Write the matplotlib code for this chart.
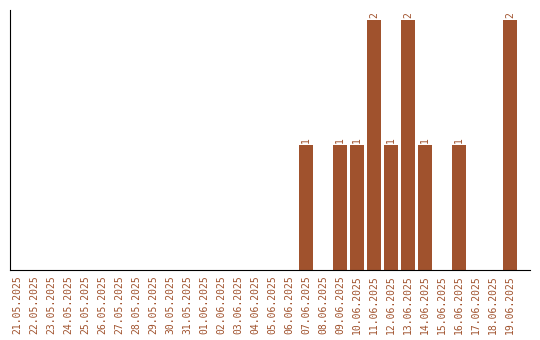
import matplotlib
matplotlib.use("Agg")
import matplotlib.pyplot as plt

dates = ["21.05.2025", "22.05.2025", "23.05.2025", "24.05.2025", "25.05.2025",
         "26.05.2025", "27.05.2025", "28.05.2025", "29.05.2025", "30.05.2025",
         "31.05.2025", "01.06.2025", "02.06.2025", "03.06.2025", "04.06.2025",
         "05.06.2025", "06.06.2025", "07.06.2025", "08.06.2025", "09.06.2025",
         "10.06.2025", "11.06.2025", "12.06.2025", "13.06.2025", "14.06.2025",
         "15.06.2025", "16.06.2025", "17.06.2025", "18.06.2025", "19.06.2025"]
counts = [0, 0, 0, 0, 0, 0, 0, 0, 0, 0,
          0, 0, 0, 0, 0, 0, 0, 1, 0, 1,
          1, 2, 1, 2, 1, 0, 1, 0, 0, 2]

color = "#A0522D"
fig = plt.figure(figsize=(5.4, 3.4), dpi=100)
ax = fig.add_axes([10/540, 70/340, 520/540, 260/340])
x = list(range(len(dates)))
ax.bar(x, counts, width=0.82, color=color)
ax.set_xlim(-0.41, len(dates) + 0.18)
ax.set_ylim(0, 2.08)
for xi, c in zip(x, counts):
    if c > 0:
        ax.text(xi, c + 0.02, str(c), rotation=90, ha="center", va="bottom",
                fontsize=7, color=color, family="DejaVu Sans Mono")
ax.set_xticks(x)
ax.set_xticklabels(dates, rotation=90, fontsize=7, color=color,
                   family="DejaVu Sans Mono")
ax.tick_params(axis="x", length=0, pad=4)
ax.set_yticks([])
for s in ["top", "right"]:
    ax.spines[s].set_visible(False)
fig.savefig("out.png", dpi=100)
